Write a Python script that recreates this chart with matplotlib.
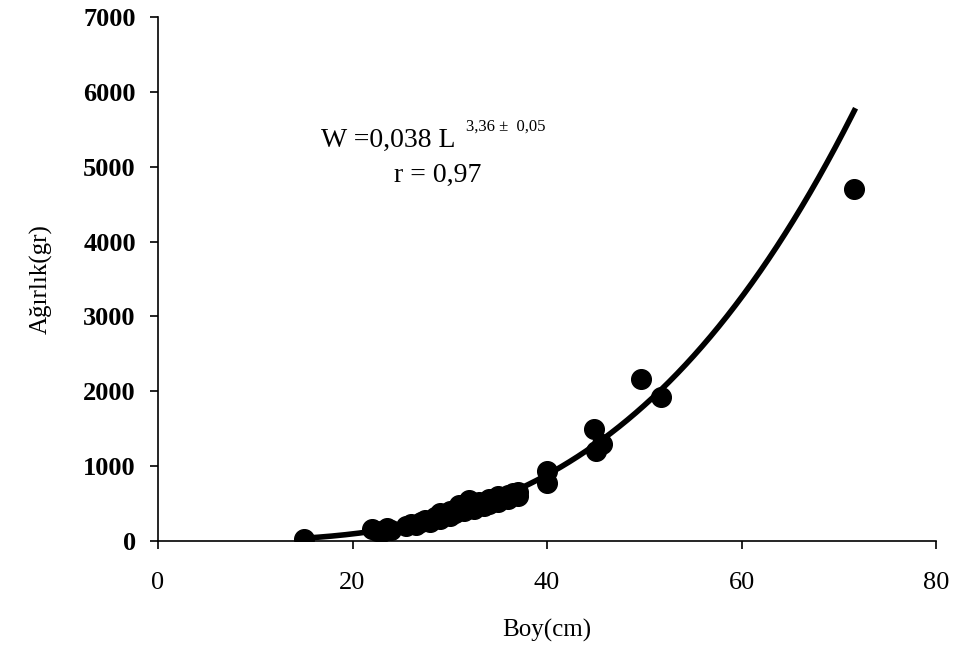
import numpy as np
import matplotlib
matplotlib.use("Agg")
import matplotlib.pyplot as plt

# boy (cm) ve agirlik (gr) olcumleri
boy = [15.0, 22.0, 22.5, 23.0, 23.5, 24.0, 25.5, 26.0, 26.5, 27.0, 27.5, 28.0,
       28.5, 29.0, 29.0, 29.5, 30.0, 30.0, 30.5, 31.0, 31.0, 31.5, 32.0, 32.0,
       32.5, 33.0, 33.0, 33.5, 34.0, 34.0, 34.5, 35.0, 35.0, 35.5, 36.0, 36.0,
       36.5, 37.0, 37.0, 40.0, 40.0, 44.8, 45.0, 45.7, 49.7, 51.7, 71.6]
agirlik = [30, 160, 140, 120, 170, 150, 200, 230, 220, 250, 280, 260,
           320, 300, 380, 350, 340, 400, 380, 420, 480, 400, 550, 450,
           430, 480, 520, 470, 500, 560, 540, 520, 600, 580, 620, 560,
           640, 600, 650, 930, 780, 1500, 1200, 1300, 2170, 1930, 4700]

x_ticks = [0, 20, 40, 60, 80]
y_ticks = [0, 1000, 2000, 3000, 4000, 5000, 6000, 7000]

plt.rcParams['font.family'] = ['Liberation Serif', 'DejaVu Serif']

fig = plt.figure(figsize=(9.56, 6.52), dpi=100)
ax = fig.add_axes([158 / 956, 0.1702, (936 - 158) / 956, 0.8037])

# power trend line (log-log least squares, as in Excel)
b, loga = np.polyfit(np.log(boy), np.log(agirlik), 1)
xs = np.linspace(min(boy), max(boy), 200)
ax.plot(xs, np.exp(loga) * xs ** b, color='black', lw=4, zorder=2)

ax.scatter(boy, agirlik, s=200, color='black', zorder=3)

ax.set_xlim(0, 80)
ax.set_ylim(0, 7000)
ax.set_xticks(x_ticks)
ax.set_yticks(y_ticks)
ax.spines['top'].set_visible(False)
ax.spines['right'].set_visible(False)
ax.spines['left'].set_linewidth(1.2)
ax.spines['bottom'].set_linewidth(1.2)
ax.tick_params(axis='y', direction='out', length=6, width=1.2, pad=10)
ax.tick_params(axis='x', direction='out', length=6, width=1.2, pad=16)
for lab in ax.get_yticklabels():
    lab.set_fontsize(19)
    lab.set_fontweight('bold')
for lab in ax.get_xticklabels():
    lab.set_fontsize(19)

ax.set_xlabel('Boy(cm)', fontsize=18, labelpad=18)
ax.set_ylabel('Ağırlık(gr)', fontsize=18, labelpad=22)

ax.text(0.209, 0.752, 'W =0,038 L', transform=ax.transAxes, fontsize=20,
        va='baseline')
ax.text(0.396, 0.784, '3,36 ±  0,05', transform=ax.transAxes, fontsize=12,
        va='baseline')
ax.text(0.303, 0.685, 'r = 0,97', transform=ax.transAxes, fontsize=20,
        va='baseline')

fig.savefig('out.png', dpi=100)
